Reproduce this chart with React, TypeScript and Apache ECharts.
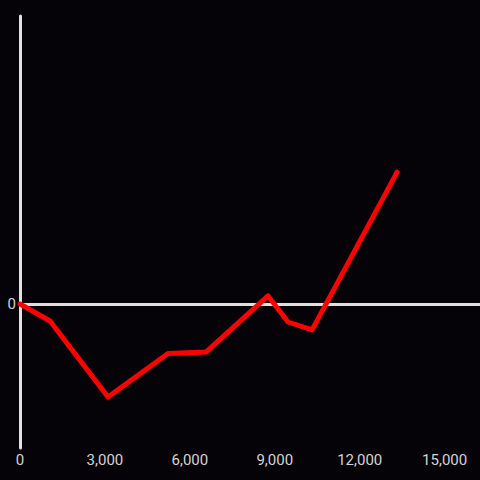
import React, { useEffect, useRef } from "react";
import * as echarts from "echarts";

const xValues = [0, 1060, 3110, 5230, 6570, 8763, 9470, 10318, 13322];
const yValues = [0, -5.9, -32.3, -17.2, -16.7, 2.8, -6.25, -9.0, 45.8];

export default function App() {
  const ref = useRef<HTMLDivElement>(null);
  useEffect(() => {
    if (!ref.current) return;
    const chart = echarts.init(ref.current, null, { renderer: "svg" });
    chart.setOption({
      animation: false,
      backgroundColor: "#050307",
      grid: { left: 20, right: 0, top: 16, bottom: 32, containLabel: false },
      xAxis: {
        type: "value",
        min: 0,
        max: 16250,
        interval: 3000,
        axisLine: { show: false, onZero: false },
        axisTick: { show: false },
        splitLine: { show: false },
        axisLabel: {
          showMaxLabel: false,
          color: "#d4d4d4",
          fontSize: 15,
          fontFamily: "Roboto, Liberation Sans, Arial, sans-serif",
          margin: 4,
          formatter: (v: number) => v.toLocaleString("en-US"),
        },
      },
      yAxis: {
        type: "value",
        min: -50,
        max: 100,
        interval: 50,
        axisLine: { show: true, lineStyle: { color: "#e0e0e0", width: 3 } },
        axisTick: { show: false },
        splitLine: { show: false },
        axisLabel: {
          color: "#d4d4d4",
          fontSize: 15,
          fontFamily: "Roboto, Liberation Sans, Arial, sans-serif",
          margin: 4,
          formatter: (v: number) => (v === 0 ? "0" : ""),
        },
      },
      series: [
        {
          type: "line",
          data: xValues.map((x, i) => [x, yValues[i]]),
          showSymbol: false,
          symbol: "none",
          lineStyle: { color: "#ff0000", width: 5, cap: "round", join: "round" },
          z: 3,
          markLine: {
            silent: true,
            symbol: "none",
            label: { show: false },
            lineStyle: { color: "#e0e0e0", width: 3, type: "solid" },
            data: [{ yAxis: 0 }],
            z: 1,
          },
        },
      ],
    });
    return () => chart.dispose();
  }, []);
  return <div ref={ref} style={{ width: 480, height: 480, position: "absolute", left: 0, top: 0 }} />;
}
